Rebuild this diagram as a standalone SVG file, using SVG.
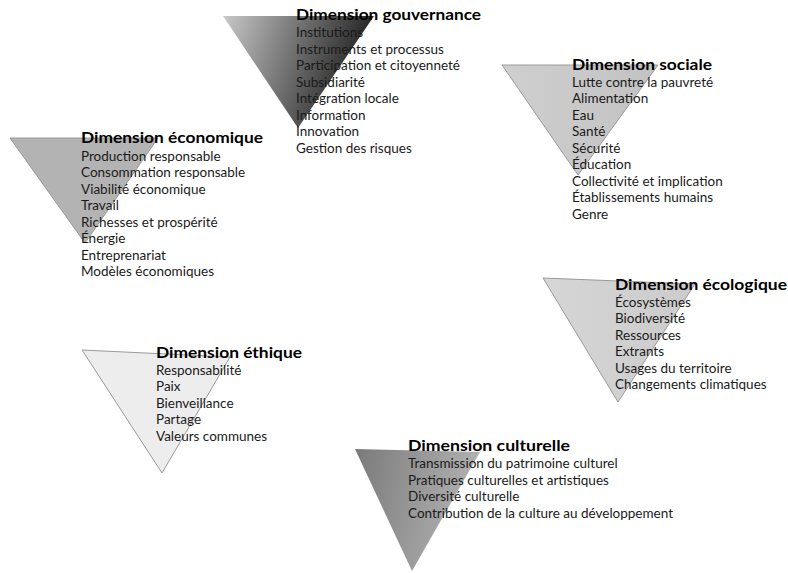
<svg xmlns="http://www.w3.org/2000/svg" width="788" height="573" viewBox="0 0 788 573">
<defs>
<linearGradient id="gGouv" x1="0" y1="0" x2="1" y2="0.25">
<stop offset="0" stop-color="#c8c8c8"/>
<stop offset="0.55" stop-color="#6a6a6a"/>
<stop offset="1" stop-color="#1e1e1e"/>
</linearGradient>
<linearGradient id="gSoc" x1="0" y1="0" x2="1" y2="0">
<stop offset="0" stop-color="#cfcfcf"/>
<stop offset="1" stop-color="#c2c2c2"/>
</linearGradient>
<linearGradient id="gEco" x1="0" y1="0" x2="1" y2="0">
<stop offset="0" stop-color="#d6d6d6"/>
<stop offset="1" stop-color="#cbcbcb"/>
</linearGradient>
<linearGradient id="gCult" x1="0" y1="0" x2="1" y2="0.2">
<stop offset="0" stop-color="#7a7a7a"/>
<stop offset="1" stop-color="#b2b2b2"/>
</linearGradient>
</defs>
<style>
text{font-family:"Lato","Liberation Sans",sans-serif;fill:#1a1a1a;}
.t{font-size:16px;font-weight:bold;fill:#000;}
.i{font-size:13.5px;}
.tri{stroke:#9a9a9a;stroke-width:1;}
</style>
<rect width="788" height="573" fill="#ffffff"/>

<g id="dim-gouvernance">
<polygon points="223,16 374,16 298,128" fill="url(#gGouv)" stroke="none"/>
<text class="t" x="296" y="20" textLength="185" lengthAdjust="spacingAndGlyphs">Dimension gouvernance</text>
<text class="i" x="296" y="37">Institutions</text>
<text class="i" x="296" y="53.5">Instruments et processus</text>
<text class="i" x="296" y="70">Participation et citoyenneté</text>
<text class="i" x="296" y="86.5">Subsidiarité</text>
<text class="i" x="296" y="103">Intégration locale</text>
<text class="i" x="296" y="119.5">Information</text>
<text class="i" x="296" y="136">Innovation</text>
<text class="i" x="296" y="152.5">Gestion des risques</text>
</g>

<g id="dim-sociale">
<polygon class="tri" points="502,65 658,65 578,175" fill="url(#gSoc)"/>
<text class="t" x="572" y="69.5" textLength="140" lengthAdjust="spacingAndGlyphs">Dimension sociale</text>
<text class="i" x="572" y="86.5">Lutte contre la pauvreté</text>
<text class="i" x="572" y="103">Alimentation</text>
<text class="i" x="572" y="119.5">Eau</text>
<text class="i" x="572" y="136">Santé</text>
<text class="i" x="572" y="152.5">Sécurité</text>
<text class="i" x="572" y="169">Éducation</text>
<text class="i" x="572" y="185.5">Collectivité et implication</text>
<text class="i" x="572" y="202">Établissements humains</text>
<text class="i" x="572" y="218.5">Genre</text>
</g>

<g id="dim-economique">
<polygon class="tri" points="10,138 158,138 85,243" fill="#b3b3b3"/>
<text class="t" x="81" y="143" textLength="182" lengthAdjust="spacingAndGlyphs">Dimension économique</text>
<text class="i" x="81" y="160.5">Production responsable</text>
<text class="i" x="81" y="177">Consommation responsable</text>
<text class="i" x="81" y="193.5">Viabilité économique</text>
<text class="i" x="81" y="210">Travail</text>
<text class="i" x="81" y="226.5">Richesses et prospérité</text>
<text class="i" x="81" y="243">Énergie</text>
<text class="i" x="81" y="259.5">Entreprenariat</text>
<text class="i" x="81" y="276">Modèles économiques</text>
</g>

<g id="dim-ecologique">
<polygon class="tri" points="543,278 695,284 618,402" fill="url(#gEco)"/>
<text class="t" x="615" y="289.5" textLength="172" lengthAdjust="spacingAndGlyphs">Dimension écologique</text>
<text class="i" x="615" y="306.5">Écosystèmes</text>
<text class="i" x="615" y="323">Biodiversité</text>
<text class="i" x="615" y="339.5">Ressources</text>
<text class="i" x="615" y="356">Extrants</text>
<text class="i" x="615" y="372.5">Usages du territoire</text>
<text class="i" x="615" y="389">Changements climatiques</text>
</g>

<g id="dim-ethique">
<polygon class="tri" points="82,350 230,357 162,473" fill="#ededed"/>
<text class="t" x="156" y="357.5" textLength="146" lengthAdjust="spacingAndGlyphs">Dimension éthique</text>
<text class="i" x="156" y="374.5">Responsabilité</text>
<text class="i" x="156" y="391">Paix</text>
<text class="i" x="156" y="407.5">Bienveillance</text>
<text class="i" x="156" y="424">Partage</text>
<text class="i" x="156" y="440.5">Valeurs communes</text>
</g>

<g id="dim-culturelle">
<polygon points="355,449 480,452 412,571" fill="url(#gCult)" stroke="none"/>
<text class="t" x="408" y="451" textLength="162" lengthAdjust="spacingAndGlyphs">Dimension culturelle</text>
<text class="i" x="408" y="468">Transmission du patrimoine culturel</text>
<text class="i" x="408" y="484.6">Pratiques culturelles et artistiques</text>
<text class="i" x="408" y="501.2">Diversité culturelle</text>
<text class="i" x="408" y="517.8">Contribution de la culture au développement</text>
</g>
</svg>
